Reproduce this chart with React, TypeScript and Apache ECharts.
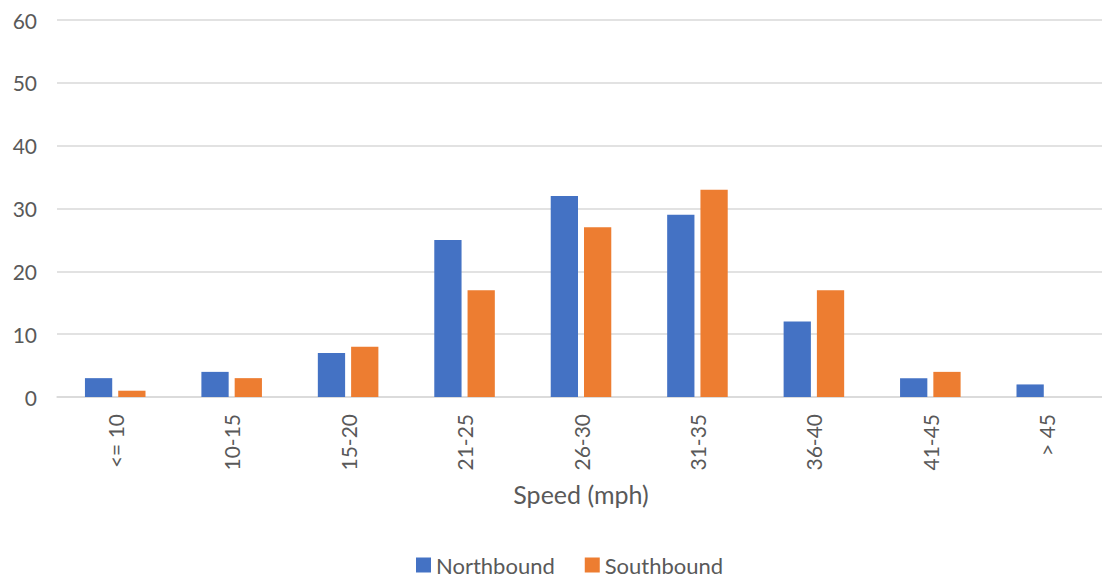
import React, { useEffect, useRef } from "react";
import * as echarts from "echarts";

const categories = ["<= 10", "10-15", "15-20", "21-25", "26-30", "31-35", "36-40", "41-45", "> 45"];
const northbound = [3, 4, 7, 25, 32, 29, 12, 3, 2];
const southbound = [1, 3, 8, 17, 27, 33, 17, 4, 0];
const yTicks = { min: 0, max: 60, interval: 10 };

const FONT = "Lato, 'Open Sans', sans-serif";
const TEXT = "#595959";

export default function App() {
  const ref = useRef<HTMLDivElement>(null);
  useEffect(() => {
    if (!ref.current) return;
    const chart = echarts.init(ref.current, undefined, { renderer: "svg" });
    chart.setOption({
      animation: false,
      backgroundColor: "#ffffff",
      textStyle: { fontFamily: FONT },
      grid: { left: 57, right: 1, top: 20, bottom: 183, containLabel: false },
      legend: {
        left: 416,
        top: 554,
        padding: 0,
        itemWidth: 15,
        itemHeight: 15,
        itemGap: 30,
        icon: "rect",
        textStyle: { fontSize: 22, color: TEXT, fontFamily: FONT },
        data: ["Northbound", "Southbound"],
      },
      xAxis: {
        type: "category",
        data: categories,
        name: "Speed (mph)",
        nameLocation: "middle",
        nameGap: 84,
        nameTextStyle: { fontSize: 25, color: TEXT, fontFamily: FONT },
        axisLine: { show: true, lineStyle: { color: "#d9d9d9", width: 1.5 } },
        axisTick: { show: false },
        axisLabel: { rotate: 90, margin: 17, fontSize: 21, color: TEXT, fontFamily: FONT },
      },
      yAxis: {
        type: "value",
        min: yTicks.min,
        max: yTicks.max,
        interval: yTicks.interval,
        axisLine: { show: false },
        axisTick: { show: false },
        axisLabel: { margin: 20, fontSize: 21, color: TEXT, fontFamily: FONT },
        splitLine: { lineStyle: { color: "#d9d9d9", width: 1.5 } },
      },
      series: [
        {
          name: "Northbound",
          type: "bar",
          data: northbound,
          barGap: "22%",
          barCategoryGap: "48%",
          itemStyle: { color: "#4472C4" },
        },
        {
          name: "Southbound",
          type: "bar",
          data: southbound,
          barGap: "22%",
          barCategoryGap: "48%",
          itemStyle: { color: "#ED7D31" },
        },
      ],
    });
    return () => chart.dispose();
  }, []);
  return (
    <div style={{ position: "absolute", left: 0, top: 0, width: 1102, height: 580, overflow: "hidden", background: "#fff" }}>
      <div ref={ref} style={{ width: 1106, height: 580 }} />
    </div>
  );
}
